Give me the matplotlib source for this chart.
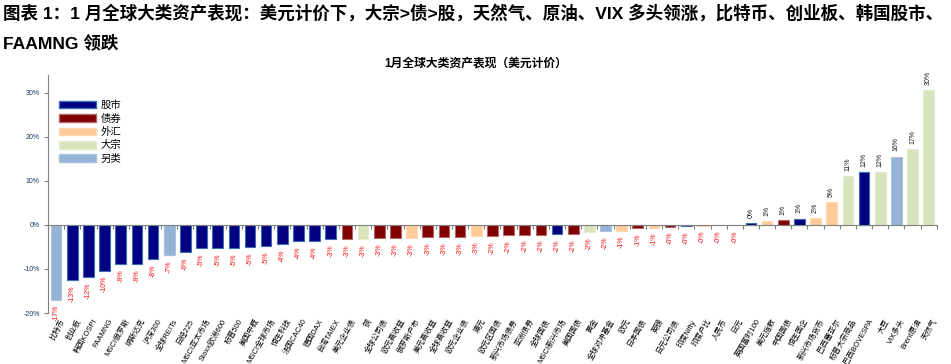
import numpy as np
import matplotlib
matplotlib.use("Agg")
import matplotlib.pyplot as plt
from matplotlib.patches import Patch

plt.rcParams['font.family'] = ['Liberation Sans', 'Noto Sans CJK SC', 'DejaVu Sans']

# data (returns in %)
names = ["比特币", "创业板", "韩国KOSPI", "FAAMNG", "MSCI俄罗斯", "纳斯达克", "沪深300", "全球REITs",
         "日经225", "MSCI亚太市场", "Stoxx欧洲600", "标普500", "美国中概", "MSCI全球市场", "恒生科技",
         "法国CAC40", "德国DAX", "台湾TAIEX", "美元企业债", "铜", "全球公司债", "欧元高收益", "俄罗斯卢布",
         "美元高收益", "全球高收益", "欧元企业债", "澳元", "欧元区国债", "新兴市场债券", "亚洲债券", "全球国债",
         "MSCI新兴市场", "美国国债", "黄金", "全球对冲基金", "欧元", "日本国债", "英镑", "日元公司债",
         "印度Nifty", "印度卢比", "人民币", "日元", "英国富时100", "美元指数", "中国国债", "恒生国企",
         "新兴市场货币", "巴西雷亚尔", "标普大宗商品", "巴西BOVESPA", "大豆", "VIX多头", "Brent原油", "天然气"]
values = [-17.0, -12.6, -11.9, -10.4, -8.9, -8.9, -7.7, -6.9, -6.2, -5.3, -5.3, -5.3, -5.1, -4.8, -4.4,
          -3.6, -3.6, -3.3, -3.2, -3.2, -3.0, -2.9, -2.9, -2.8, -2.8, -2.8, -2.6, -2.5, -2.4, -2.2, -2.2,
          -2.0, -2.0, -1.7, -1.5, -1.3, -0.8, -0.6, -0.4, -0.3, -0.15, -0.08, -0.03, 0.4, 0.9, 1.1, 1.4,
          1.5, 5.1, 11.1, 12.0, 12.0, 15.5, 17.2, 30.5]
kinds = ["另类", "股市", "股市", "股市", "股市", "股市", "股市", "另类", "股市", "股市", "股市", "股市", "股市",
         "股市", "股市", "股市", "股市", "股市", "债券", "大宗", "债券", "债券", "外汇", "债券", "债券", "债券",
         "外汇", "债券", "债券", "债券", "债券", "股市", "债券", "大宗", "另类", "外汇", "债券", "外汇", "债券",
         "股市", "外汇", "外汇", "外汇", "股市", "外汇", "债券", "股市", "外汇", "外汇", "大宗", "股市", "大宗",
         "另类", "大宗", "大宗"]
legend_order = ["股市", "债券", "外汇", "大宗", "另类"]

fill = {"股市": "#000080", "债券": "#800000", "外汇": "#FFCC99", "大宗": "#D8E4BC", "另类": "#95B3D7"}
edge = {"股市": "#3B6DB5", "债券": "#B06868", "外汇": "#FFD7B0", "大宗": "#E3ECCD", "另类": "#A9C2E0"}

fig = plt.figure(figsize=(9.51, 3.64), dpi=100)
ax = fig.add_axes([0.0505, 0.140, 0.9345, 0.654])

x = np.arange(len(names))
vals = np.array(values) / 100
ax.bar(x, vals, width=0.66, color=[fill[k] for k in kinds],
       edgecolor=[edge[k] for k in kinds], linewidth=0.8, zorder=2)

for xi, v in zip(x, vals):
    lab = f"{round(v * 100):.0f}%"
    if v < 0:
        if lab == "0%":
            lab = "-0%"
        ax.text(xi, v - 0.012, lab, rotation=90, ha='center', va='top',
                fontsize=5, color='#FF1010')
    else:
        ax.text(xi, v + 0.012, lab, rotation=90, ha='center', va='bottom',
                fontsize=5, color='#1A1A1A')

# category labels at the bottom of the plot area
for xi, n in zip(x, names):
    ax.text(xi + 0.25, -0.02, n, transform=ax.get_xaxis_transform(), rotation=60,
            ha='right', va='top', rotation_mode='anchor', fontsize=5.5, color='black')

ax.set_xlim(-0.5, len(names) - 0.5)
ax.set_ylim(-0.20, 0.34)
ax.set_yticks([-0.2, -0.1, 0, 0.1, 0.2, 0.3])
ax.set_yticklabels([f"{t:.0f}%" for t in [-20, -10, 0, 10, 20, 30]], fontsize=5, color='#1F3864')
ax.tick_params(axis='y', direction='out', length=3, color='#808080', width=0.8, pad=3)

ax.spines['bottom'].set_position(('data', 0))
ax.spines['bottom'].set_color('#808080')
ax.spines['left'].set_color('#808080')
ax.spines['top'].set_visible(False)
ax.spines['right'].set_visible(False)
ax.set_xticks(np.arange(len(names) + 1) - 0.5)
ax.set_xticklabels([])
ax.tick_params(axis='x', direction='out', length=3, color='#808080', width=0.8)

handles = [Patch(facecolor=fill[k], edgecolor=edge[k]) for k in legend_order]
ax.legend(handles, legend_order, loc='upper left', bbox_to_anchor=(0.005, 0.92), frameon=False,
          fontsize=7.5, handlelength=3.6, handleheight=0.75, labelspacing=0.32, handletextpad=0.4,
          borderaxespad=0.2)

fig.text(0.003, 0.99, "图表 1：1 月全球大类资产表现：美元计价下，大宗>债>股，天然气、原油、VIX 多头领涨，比特币、创业板、韩国股市、",
         ha='left', va='top', fontsize=12.6, fontweight='bold')
fig.text(0.003, 0.905, "FAAMNG 领跌", ha='left', va='top', fontsize=12.6, fontweight='bold')
fig.text(0.5, 0.824, "1月全球大类资产表现（美元计价）", ha='center', va='center', fontsize=8.5, fontweight='bold')

fig.savefig("out.png", dpi=100)
